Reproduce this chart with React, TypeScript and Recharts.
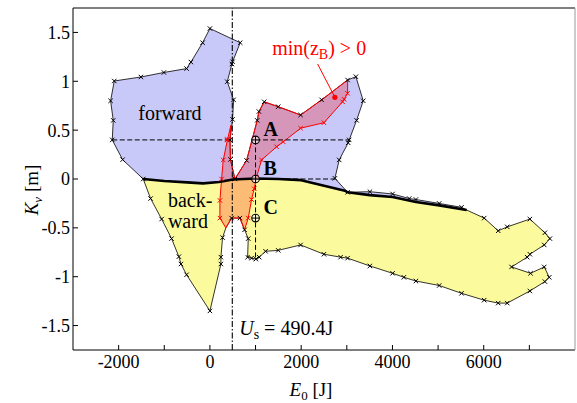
import React from 'react';
import { ScatterChart, Scatter, XAxis, YAxis } from 'recharts';

type Pair = [number, number];

const SERIF = 'Liberation Serif, DejaVu Serif, serif';

const X_TICKS = [-2000, -1000, 0, 1000, 2000, 3000, 4000, 5000, 6000, 7000];
const Y_TICKS = [-1.5, -1, -0.5, 0, 0.5, 1, 1.5];
const U_S = 490.4;

// forward-stable region, traced from the left end of the split line clockwise
const forwardOutline: Pair[] = [
  [-1461, 0.0], [-1913, 0.198], [-2140, 0.4], [-2118, 0.6], [-2176, 0.8], [-2096, 1.003],
  [-1512, 1.044], [-1008, 1.09], [-511, 1.13], [-416, 1.197], [-160, 1.395], [0, 1.54],
  [664, 1.395], [497, 1.2], [482, 1.177], [380, 0.996], [519, 0.81], [497, 0.61],
  [440, 0.4], [450, 0.2], [548, 0.0], [804, 0.19], [1037, 0.6], [1074, 0.69], [1190, 0.79],
  [1497, 0.74], [1987, 0.655], [2447, 0.81], [3017, 1.013], [3199, 1.047], [3360, 0.8],
  [3214, 0.6], [3052, 0.4], [3030, 0.37], [2833, 0.195], [2739, 0.007], [3017, -0.136],
  [3506, -0.13], [4003, -0.153], [4367, -0.2], [4514, -0.21], [5024, -0.25], [5514, -0.29],
  [5624, -0.317],
];

// split line between forward and backward solutions
const boundary: Pair[] = [
  [-1461, 0.0], [-1000, -0.02], [-500, -0.035], [-150, -0.045], [200, -0.03], [500, -0.005],
  [1000, 0.005], [1500, 0.0], [2000, -0.012], [2958, -0.12], [3017, -0.136], [3506, -0.165],
  [4003, -0.185], [4514, -0.235], [5024, -0.27], [5624, -0.317],
];

// backward-stable region, from the left end of the split line counter-clockwise
const backwardOutline: Pair[] = [
  [-1461, 0.0], [-1300, -0.2], [-1058, -0.41], [-840, -0.61], [-680, -0.795], [-635, -0.87],
  [-511, -0.98], [0, -1.35], [241, -0.87], [241, -0.8], [277, -0.6], [350, -0.5], [475, -0.4],
  [657, -0.4], [760, -0.52], [840, -0.61], [826, -0.8], [913, -0.81], [1008, -0.82],
  [1080, -0.8], [1220, -0.74], [1497, -0.73], [1987, -0.675], [2498, -0.77], [2864, -0.8],
  [3017, -0.81], [3506, -0.89], [4003, -0.965], [4250, -1.006], [4514, -1.044], [5024, -1.09],
  [5514, -1.17], [6010, -1.24], [6317, -1.27], [6515, -1.27], [7011, -1.146], [7340, -1.05],
  [7435, -1.006], [7326, -0.9], [7026, -0.965], [6610, -0.9], [6953, -0.8], [7011, -0.77],
  [7326, -0.675], [7450, -0.61], [7340, -0.55], [7011, -0.41], [6515, -0.49], [6317, -0.53],
  [6010, -0.4], [5624, -0.317],
];

// region where min(z_B) > 0
const zbOutline: Pair[] = [
  [256, 0.0], [292, 0.195], [387, 0.406], [460, 0.55], [440, 0.4], [450, 0.2], [548, 0.0],
  [804, 0.19], [1037, 0.6], [1074, 0.69], [1190, 0.79], [1497, 0.74], [1987, 0.655],
  [2447, 0.81], [3017, 1.013], [3017, 0.877], [2942, 0.815], [2907, 0.79], [2498, 0.576],
  [1987, 0.52], [1607, 0.38], [1461, 0.33], [1132, 0.195], [1022, 0.02], [971, -0.1],
  [913, -0.21], [840, -0.4], [760, -0.52], [657, -0.4], [475, -0.4], [350, -0.5],
  [219, -0.4], [219, -0.22], [256, 0.0],
];

const zbMarks: Pair[] = [
  [256, 0.0], [292, 0.195], [370, 0.4], [387, 0.406], [219, -0.22], [219, -0.4],
  [840, -0.4], [913, -0.21], [971, -0.1], [1022, 0.02], [1132, 0.195], [1461, 0.33],
  [1607, 0.38], [1987, 0.52], [2498, 0.576], [2907, 0.79], [2942, 0.815], [3017, 0.877],
];

const backwardMarks: Pair[] = backwardOutline.filter(
  ([x, y]) => !(x === 350 && y === -0.5) && !(x === 5624) && !(x === -1461)
);

const probes = [
  { name: 'A', x: 1000, y: 0.4 },
  { name: 'B', x: 1000, y: 0 },
  { name: 'C', x: 1000, y: -0.4 },
];

const guides: Pair[][] = [
  [[-2140, 0.4], [440, 0.4]],
  [[1000, 0.4], [3052, 0.4]],
  [[1000, 0], [2739, 0]],
  [[1000, 0.4], [1000, -0.82]],
];

const zbDot: Pair = [2739, 0.836];
const zbLeader: Pair[] = [[2360, 1.177], zbDot];
const zbLabelAt: Pair = [1365, 1.27];
const usLabelAt: Pair = [642, -1.597];

const regionLabels = [
  { text: 'forward', x: -876, y: 0.6, anchor: 'middle' },
  { text: 'back-', x: -920, y: -0.283, anchor: 'start' },
  { text: 'ward', x: -920, y: -0.5, anchor: 'start' },
];

const toPts = (a: Pair[]) => a.map(([x, y]) => ({ x, y }));
const reversed = (a: Pair[]) => [...a].reverse();

const Nothing = () => <g />;

const pathOf = (pts: any[]) =>
  pts.map((p: any, i: number) => `${i ? 'L' : 'M'}${p.x},${p.y}`).join('');

const closedShape = (fill: string, fillOpacity: number, stroke: string, width: number) =>
  (lp: any) => {
    const pts = lp?.points || [];
    if (!pts.length) return <g />;
    return (
      <path
        d={pathOf(pts) + 'Z'}
        fill={fill}
        fillOpacity={fillOpacity}
        stroke={stroke}
        strokeWidth={width}
        strokeLinejoin="round"
      />
    );
  };

const openShape = (stroke: string, width: number, dash?: string) => (lp: any) => {
  const pts = lp?.points || [];
  if (!pts.length) return <g />;
  return (
    <path
      d={pathOf(pts)}
      fill="none"
      stroke={stroke}
      strokeWidth={width}
      strokeDasharray={dash}
      strokeLinejoin="round"
    />
  );
};

const xMark = (color: string) => (p: any) => {
  const { cx, cy } = p;
  if (cx == null || cy == null) return <g />;
  const s = 2.2;
  return (
    <path
      d={`M${cx - s},${cy - s}L${cx + s},${cy + s}M${cx - s},${cy + s}L${cx + s},${cy - s}`}
      stroke={color}
      strokeWidth={1}
    />
  );
};

const ProbeMark = (p: any) => {
  const { cx, cy } = p;
  const name = p.payload?.name ?? p.name;
  const r = 3.8;
  return (
    <g>
      <circle cx={cx} cy={cy} r={r} fill="#fff" fillOpacity={0.55} stroke="#000" strokeWidth={1.1} />
      <path d={`M${cx - r},${cy}L${cx + r},${cy}M${cx},${cy - r}L${cx},${cy + r}`} stroke="#000" strokeWidth={1} />
      <text x={cx + 8} y={cy - 4} fontFamily={SERIF} fontSize={20} fontWeight="bold" fill="#000">
        {name}
      </text>
    </g>
  );
};

const RegionText = (p: any) => {
  const d = p.payload ?? p;
  return (
    <text x={p.cx} y={p.cy} textAnchor={d.anchor} fontFamily={SERIF} fontSize={20} fill="#000">
      {d.text}
    </text>
  );
};

const ZbText = (p: any) => (
  <text x={p.cx} y={p.cy} fontFamily={SERIF} fontSize={20} fill="#ff0000">
    min(z<tspan fontSize={14} dy={4}>B</tspan>
    <tspan dy={-4}>) &gt; 0</tspan>
  </text>
);

const UsText = (p: any) => (
  <text x={p.cx} y={p.cy} fontFamily={SERIF} fontSize={20} fill="#000">
    <tspan fontStyle="italic">U</tspan>
    <tspan fontSize={14} dy={4}>s</tspan>
    <tspan dy={-4}>{` = ${U_S}J`}</tspan>
  </text>
);

const RedDot = (p: any) => <circle cx={p.cx} cy={p.cy} r={2.6} fill="#ff0000" />;

const XTitle = (props: any) => {
  const vb = props?.viewBox || {};
  const cx = (vb.x ?? 73) + (vb.width ?? 502) / 2 - 13;
  const y = (vb.y ?? 350) + 46;
  return (
    <text x={cx} y={y} textAnchor="middle" fontFamily={SERIF} fontSize={19} fill="#000">
      <tspan fontStyle="italic">E</tspan>
      <tspan fontSize={13} dy={4}>0</tspan>
      <tspan dy={-4}> [J]</tspan>
    </text>
  );
};

const YTitle = (props: any) => {
  const vb = props?.viewBox || {};
  const x = 38;
  const y = (vb.y ?? 8) + (vb.height ?? 342) / 2 + 11;
  return (
    <text
      x={x}
      y={y}
      transform={`rotate(-90 ${x} ${y})`}
      textAnchor="middle"
      fontFamily={SERIF}
      fontSize={19}
      fill="#000"
    >
      <tspan fontStyle="italic">K</tspan>
      <tspan fontStyle="italic" fontSize={13} dy={4}>v</tspan>
      <tspan dy={-4}> [m]</tspan>
    </text>
  );
};

const tickStyle = { fill: '#000', fontSize: 18, fontFamily: SERIF };

export default function App() {
  return (
    <div
      style={{
        position: 'absolute',
        left: 0,
        top: 0,
        width: 577,
        height: 403,
        background: '#fff',
        fontFamily: SERIF,
      }}
    >
      <ScatterChart width={577} height={403} margin={{ top: 8, right: 2, bottom: 0, left: 0 }}>
        <XAxis
          type="number"
          dataKey="x"
          domain={[-3000, 8000]}
          ticks={X_TICKS}
          interval={0}
          tickFormatter={(v: number) => (v % 2000 === 0 ? String(v) : '')}
          tickSize={-5}
          tickMargin={10}
          height={53}
          axisLine={{ stroke: '#000' }}
          tickLine={{ stroke: '#000' }}
          tick={tickStyle}
          label={XTitle}
        />
        <YAxis
          type="number"
          dataKey="y"
          domain={[-1.75, 1.75]}
          ticks={Y_TICKS}
          interval={0}
          tickSize={-5}
          tickMargin={8}
          width={73}
          axisLine={{ stroke: '#000' }}
          tickLine={{ stroke: '#000' }}
          tick={tickStyle}
          label={YTitle}
        />

        {/* plot frame */}
        <Scatter data={toPts([[-3000, 1.75], [8000, 1.75]])} shape={Nothing} line={openShape('#000', 1)} isAnimationActive={false} />
        <Scatter data={toPts([[8000, 1.75], [8000, -1.75]])} shape={Nothing} line={openShape('#999', 1)} isAnimationActive={false} />

        {/* stability regions */}
        <Scatter
          data={toPts([...backwardOutline, ...reversed(boundary)])}
          shape={Nothing}
          line={closedShape('#fbfb9d', 1, '#000', 0.8)}
          isAnimationActive={false}
        />
        <Scatter
          data={toPts([...forwardOutline, ...reversed(boundary)])}
          shape={Nothing}
          line={closedShape('#c9c9f9', 1, '#000', 0.8)}
          isAnimationActive={false}
        />
        <Scatter
          data={toPts(zbOutline)}
          shape={Nothing}
          line={closedShape('#ff0000', 0.25, '#ff0000', 1)}
          isAnimationActive={false}
        />
        <Scatter data={toPts(boundary)} shape={Nothing} line={openShape('#000', 2.6)} isAnimationActive={false} />

        {/* guide lines through A, B, C */}
        {guides.map((g, i) => (
          <Scatter key={`g${i}`} data={toPts(g)} shape={Nothing} line={openShape('#000', 1, '5 2.5')} isAnimationActive={false} />
        ))}
        <Scatter
          data={toPts([[U_S, -1.75], [U_S, 1.75]])}
          shape={Nothing}
          line={openShape('#000', 1.1, '6 2 1.5 2')}
          isAnimationActive={false}
        />

        {/* vertex markers */}
        <Scatter data={toPts(forwardOutline.slice(0, -1))} shape={xMark('#000')} isAnimationActive={false} />
        <Scatter data={toPts(backwardMarks)} shape={xMark('#000')} isAnimationActive={false} />
        <Scatter data={toPts(zbMarks)} shape={xMark('#ff0000')} isAnimationActive={false} />

        {/* annotations */}
        <Scatter data={toPts(zbLeader)} shape={Nothing} line={openShape('#ff0000', 1)} isAnimationActive={false} />
        <Scatter data={toPts([zbDot])} shape={RedDot} isAnimationActive={false} />
        <Scatter data={toPts([zbLabelAt])} shape={ZbText} isAnimationActive={false} />
        <Scatter data={toPts([usLabelAt])} shape={UsText} isAnimationActive={false} />
        <Scatter data={regionLabels} shape={RegionText} isAnimationActive={false} />
        <Scatter data={probes} shape={ProbeMark} isAnimationActive={false} />
      </ScatterChart>
    </div>
  );
}
